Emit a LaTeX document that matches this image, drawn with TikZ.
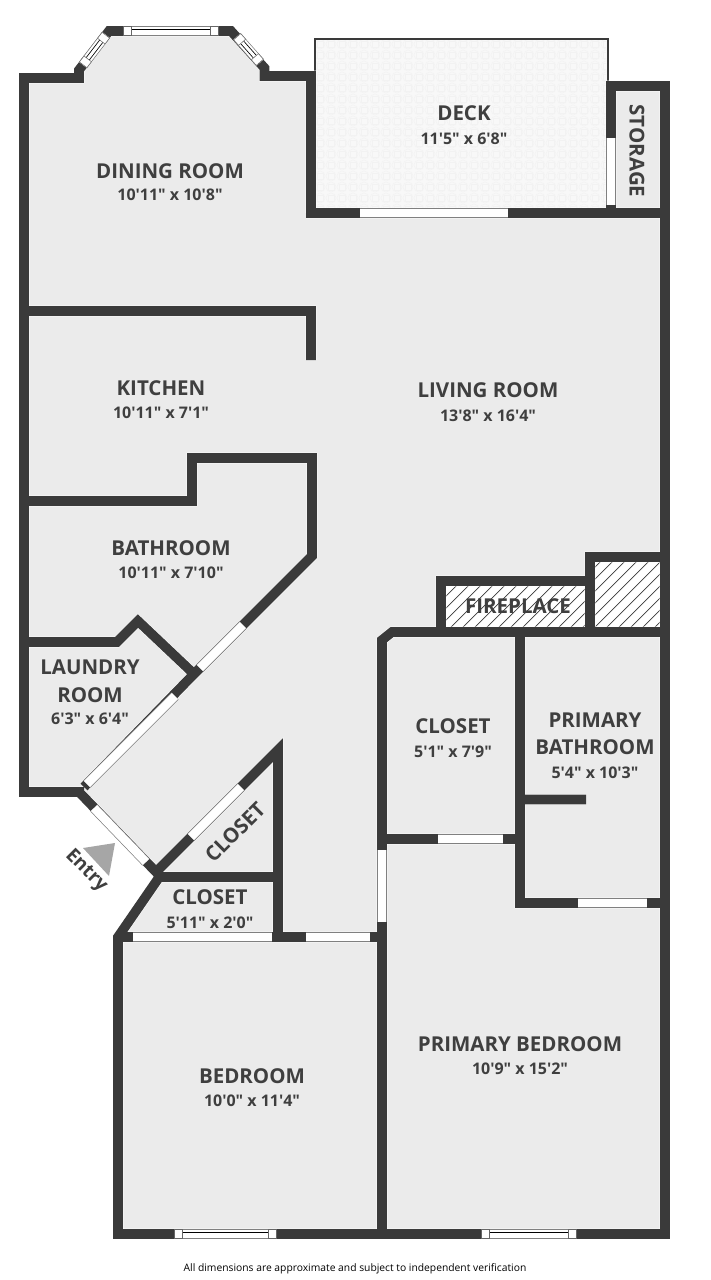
\documentclass[tikz,border=0pt]{standalone}
\usepackage{fontspec}
\newfontfamily\plainfont{Open Sans}
\definecolor{wallc}{HTML}{3A3A3A}
\definecolor{floorc}{HTML}{EBEBEB}
\definecolor{deckc}{HTML}{F8F8F8}
\definecolor{tilec}{HTML}{F2F2F2}
\definecolor{textc}{HTML}{3F3F3F}
\newcommand{\baywindow}[3]{%
\draw[opening] #2 -- #3;
\draw[winline] #2 -- #3;
\path #2 -- #3 node[winend,pos=0,anchor=west] (#1a) {} node[winend,pos=1,anchor=east] (#1b) {};
}

\begin{document}
\begin{tikzpicture}[x=1pt,y=-1pt]
\tikzset{wall/.style={draw=wallc,line width=9.6,miter limit=10,preaction={draw=white,line width=10.6}}}
\tikzset{opening/.style={draw=gray,line width=.7,double=white,double distance=8.6}}
\tikzset{winline/.style={draw=black,line width=.8,double=white,double distance=3}}
\tikzset{winend/.style={sloped,allow upside down,draw=black!60,fill=white,line width=.5,minimum width=7.5,minimum height=9.4,inner sep=0pt}}
\tikzset{roomname/.style={font=\plainfont\bfseries\fontsize{20.5}{21}\selectfont,text=textc,inner sep=0pt}}
\tikzset{roomsize/.style={font=\plainfont\bfseries\fontsize{16}{16}\selectfont,text=textc,inner sep=0pt}}

\useasboundingbox (0,0) rectangle (710,1280);

\fill[floorc] (24,78) -- (79,78) -- (79,70) -- (109,31) -- (231,31) -- (264.5,68) -- (264.5,76) -- (311,76) -- (311,86) -- (665,86) -- (665,1234) -- (118,1234) -- (118,937) -- (158,873) -- (82,792) -- (24,792) -- cycle;

\fill[deckc] (314,38) rectangle (608,209);
\begin{scope}
\clip (316,40) rectangle (606,207);
\foreach \i in {0,...,26} \foreach \j in {0,...,15} {
\draw[tilec,line width=.5] (320+11*\i,44+11*\j) circle (5);
\draw[tilec,line width=.5] (317+11*\i,41+11*\j) rectangle (323+11*\i,47+11*\j);
}
\end{scope}
\draw[wallc,line width=2] (315,76) -- (315,38.5) -- (607.5,38.5) -- (607.5,90);

\fill[white] (446,586) rectangle (585,627) (594,562) rectangle (660,627);
\begin{scope}
\clip (446,586) rectangle (585,627) (594,562) rectangle (660,627);
\foreach \x in {400,412,...,660} \draw[wallc,line width=.7] (\x,630) -- (\x+72,558);
\end{scope}

\draw[wall]
 (24,78) -- (79,78) -- (79,70) -- (109,31) -- (231,31) -- (264.5,68) -- (264.5,76) -- (311,76) -- (311,213)
 (306,213) -- (665,213)
 (611,213) -- (611,86) -- (665,86) -- (665,1234) -- (118,1234) -- (118,937) -- (160,876)
 (24,73.2) -- (24,792) -- (84,792)
 (24,311) -- (311,311) -- (311,360)
 (24,501) -- (192,501) -- (192,458) -- (312,458) -- (312,556) -- (190,678)
 (192,676) -- (84,787)
 (24,642) -- (117,642) -- (138,621) -- (194,674)
 (80,793) -- (158,874)
 (158,870) -- (278,750) -- (278,937)
 (158,877) -- (278,877)
 (118,937) -- (382,937)
 (382,1234) -- (382,640) -- (392,632) -- (665,632)
 (441,632) -- (441,581) -- (590,581)
 (590,632) -- (590,557) -- (665,557)
 (520,632) -- (520,903) -- (665,903)
 (382,839) -- (520,839)
 (520,799.5) -- (586,799.5);

\draw[opening] (360,213) -- (508,213);
\draw[opening] (611,138) -- (611,205);
\draw[opening] (243,625) -- (200,668);
\draw[opening] (175,696) -- (87,784);
\draw[opening] (191,837) -- (241,787);
\draw[opening] (94,808) -- (146,862);
\draw[opening] (133,937) -- (272,937);
\draw[opening] (306,937) -- (370,937);
\draw[opening] (382,850) -- (382,922);
\draw[opening] (438,839) -- (503,839);
\draw[opening] (578,903) -- (647,903);

\baywindow{baytop}{(123,31)}{(218,31)}
\baywindow{bayleft}{(83,65)}{(106,35)}
\baywindow{bayright}{(237,36.5)}{(260,62.5)}
\baywindow{bedwin}{(174,1234)}{(276,1234)}
\baywindow{primwin}{(481,1234)}{(576,1234)}

\fill[black!35] (83,848) -- (115,843) -- (109,876) -- cycle;

\node[roomname] (dining) at (170,171) {DINING ROOM};
\node[roomsize] (diningsize) at (170,195) {10'11" x 10'8"};
\node[roomname] (deck) at (464,113) {DECK};
\node[roomsize] (decksize) at (464,138.5) {11'5" x 6'8"};
\node[roomname,rotate=-90] (storage) at (637,151) {STORAGE};
\node[roomname] (living) at (488,390) {LIVING ROOM};
\node[roomsize] (livingsize) at (488,416) {13'8" x 16'4"};
\node[roomname] (kitchen) at (161,388) {KITCHEN};
\node[roomsize] (kitchensize) at (161,413) {10'11" x 7'1"};
\node[roomname] (bath) at (171,548) {BATHROOM};
\node[roomsize] (bathsize) at (171,573) {10'11" x 7'10"};
\node[roomname] (laundry) at (90,667) {LAUNDRY};
\node[roomname] (laundryb) at (90,695) {ROOM};
\node[roomsize] (laundrysize) at (90,719) {6'3" x 6'4"};
\node[roomname] (fireplace) at (518,606.5) {FIREPLACE};
\node[roomname] (closeta) at (453,726) {CLOSET};
\node[roomsize] (closetasize) at (453,752) {5'1" x 7'9"};
\node[roomname] (primary) at (595,720) {PRIMARY};
\node[roomname] (primaryb) at (595,747) {BATHROOM};
\node[roomsize] (primarysize) at (595,772.5) {5'4" x 10'3"};
\node[roomname,rotate=45] (closetb) at (235,832) {CLOSET};
\node[roomname] (closetc) at (210,897) {CLOSET};
\node[roomsize] (closetcsize) at (210,922.5) {5'11" x 2'0"};
\node[roomname] (bed) at (252,1076) {BEDROOM};
\node[roomsize] (bedsize) at (252,1101) {10'0" x 11'4"};
\node[roomname] (primbed) at (520,1044) {PRIMARY BEDROOM};
\node[roomsize] (primbedsize) at (520,1069) {10'9" x 15'2"};
\node[font=\plainfont\bfseries\fontsize{19}{19}\selectfont,text=textc,inner sep=0pt,rotate=-45] (entry) at (86,871) {Entry};
\node[font=\plainfont\fontsize{10.3}{11}\selectfont,text=black,inner sep=0pt] (note) at (355,1268.5) {All dimensions are approximate and subject to independent verification};
\end{tikzpicture}
\end{document}
